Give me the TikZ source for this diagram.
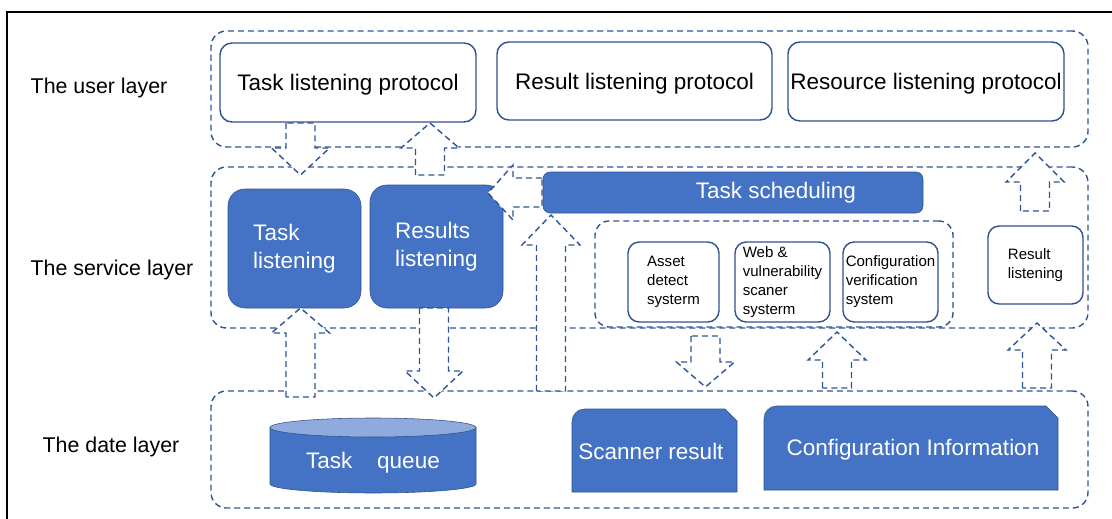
\documentclass[tikz,border=0pt]{standalone}
\usepackage{fontspec}
\setmainfont{Liberation Sans}
\usetikzlibrary{positioning}

\definecolor{fillblue}{HTML}{4472C4}
\definecolor{edgeblue}{HTML}{2F528F}
\definecolor{dashblue}{HTML}{2F5597}
\definecolor{topblue}{HTML}{8FAADC}

\newcommand{\pxu}{0.025cm}
\newcommand{\bigtext}{\fontsize{16}{20}\selectfont}
\newcommand{\smalltext}{\fontsize{10.7}{13.5}\selectfont}
% vertical block arrow: centre x, start y, head base y, tip y
\newcommand{\vblock}[4]{%
  \draw[blockarr] (#1-14.5,#2) -- (#1-14.5,#3) -- (#1-29,#3) -- (#1,#4)
    -- (#1+29,#3) -- (#1+14.5,#3) -- (#1+14.5,#2) -- cycle;}

\tikzset{
  layerbox/.style={draw=dashblue, line width=1pt, dash pattern=on 4.3pt off 2.8pt,
    rounded corners=11pt, inner sep=0pt},
  userbox/.style={draw=edgeblue, line width=1pt, fill=white, rounded corners=8.5pt,
    inner sep=0pt, font=\bigtext, text depth=0pt},
  bluebox/.style={draw=edgeblue, fill=fillblue, text=white, rounded corners=12pt,
    inner sep=0pt, align=left, font=\bigtext},
  smallbox/.style={draw=edgeblue, line width=1pt, fill=white, rounded corners=8pt,
    inner sep=0pt, align=left, font=\smalltext},
  layerlbl/.style={font=\fontsize{15.2}{18}\selectfont},
  blockarr/.style={draw=dashblue, line width=1pt, dash pattern=on 4.3pt off 2.8pt,
    fill=white},
}

\begin{document}
\begin{tikzpicture}[x=0.025cm, y=-0.025cm]
 \useasboundingbox (0,0) rectangle (1112,519);
 \draw[line width=1.2pt] (7,519) -- (7,12) -- (1112,12);

 % layer labels
 \node[layerlbl] (userlbl) at (99,88) {The user layer};
 \node[layerlbl] (servlbl) at (112,270) {The service layer};
 \node[layerlbl] (datalbl) at (111,447) {The date layer};

 % layers
 \node[layerbox, minimum width=877*\pxu, minimum height=116*\pxu] (userlayer) at (649.5,89) {};
 \node[layerbox, minimum width=877*\pxu, minimum height=161*\pxu] (servlayer) at (649.5,247.5) {};
 \node[layerbox, minimum width=877*\pxu, minimum height=117*\pxu] (datalayer) at (649.5,449.5) {};

 % user layer
 \node[userbox, minimum width=256*\pxu, minimum height=79*\pxu] (tlp) at (348,82.5) {Task listening protocol};
 \node[userbox, minimum width=275*\pxu, minimum height=78*\pxu] (rlp) at (634.5,81) {Result listening protocol};
 \node[userbox, minimum width=276*\pxu, minimum height=79*\pxu] (reslp) at (926,81.5) {Resource listening protocol};

 % service layer
 \node[bluebox, minimum width=133*\pxu, minimum height=119*\pxu] (tasklis) at (294.5,248.5) {Task\\listening};
 \node[bluebox, minimum width=133*\pxu, minimum height=123*\pxu] (reslis) at (436.5,246.5) {Results\\listening};
 \node[bluebox, rounded corners=5pt, minimum width=380*\pxu, minimum height=41*\pxu] (tsched) at (733,192.5) {};
 \node[text=white, font=\bigtext] (tschedlbl) at (776,192.5) {Task scheduling};
 \node[layerbox, rounded corners=10pt, minimum width=358*\pxu, minimum height=106*\pxu] (scanners) at (774,274) {};
 \node[smallbox, minimum width=91*\pxu, minimum height=80*\pxu] (asset) at (673.5,282) {Asset\\detect\\systerm};
 \node[smallbox, minimum width=95*\pxu, minimum height=80*\pxu] (webscan) at (782.5,282) {Web \&\\vulnerability\\scaner\\systerm};
 \node[smallbox, minimum width=95*\pxu, minimum height=80*\pxu] (confver) at (890.5,282) {Configuration\\verification\\system};
 \node[smallbox, minimum width=95*\pxu, minimum height=78*\pxu] (rlis) at (1035.5,265) {Result\\listening};

 % date layer
 \filldraw[fill=fillblue, draw=edgeblue] (270,427.5) -- (270,484)
   arc[start angle=180, end angle=0, x radius=103, y radius=9] -- (476,427.5) -- cycle;
 \filldraw[fill=topblue, draw=edgeblue] (373,427.5) ellipse[x radius=103, y radius=9.5];
 \node[text=white, font=\bigtext] (tqueue) at (373,463) {Task\hspace{1.1em}queue};
 \filldraw[fill=fillblue, draw=edgeblue] (572,492) [rounded corners=9pt] -- (572,409)
   [sharp corners] -- (725,409) -- (737,421) -- (737,492) -- cycle;
 \node[text=white, font=\bigtext] (scanres) at (651,451) {Scanner result};
 \filldraw[fill=fillblue, draw=edgeblue] (764,490) [rounded corners=9pt] -- (764,406)
   [sharp corners] -- (1046,406) -- (1058,418) -- (1058,490) -- cycle;
 \node[text=white, font=\bigtext] (confinfo) at (913,450) {Configuration Information};

 % block arrows
 \vblock{300.5}{123}{148}{175}
 \vblock{430}{175}{148}{123}
 \vblock{434}{308}{371}{398}
 \vblock{300.5}{397}{333}{308}
 \vblock{551}{391}{245}{215}
 \vblock{1035}{211}{182}{153}
 \vblock{705.5}{336}{362}{387}
 \vblock{837}{388}{360}{332}
 \vblock{1037}{388}{350}{323}
 \draw[blockarr] (542,178) -- (513,178) -- (513,165) -- (488,193) -- (513,220)
   -- (513,207) -- (542,207) -- cycle;
\end{tikzpicture}
\end{document}
